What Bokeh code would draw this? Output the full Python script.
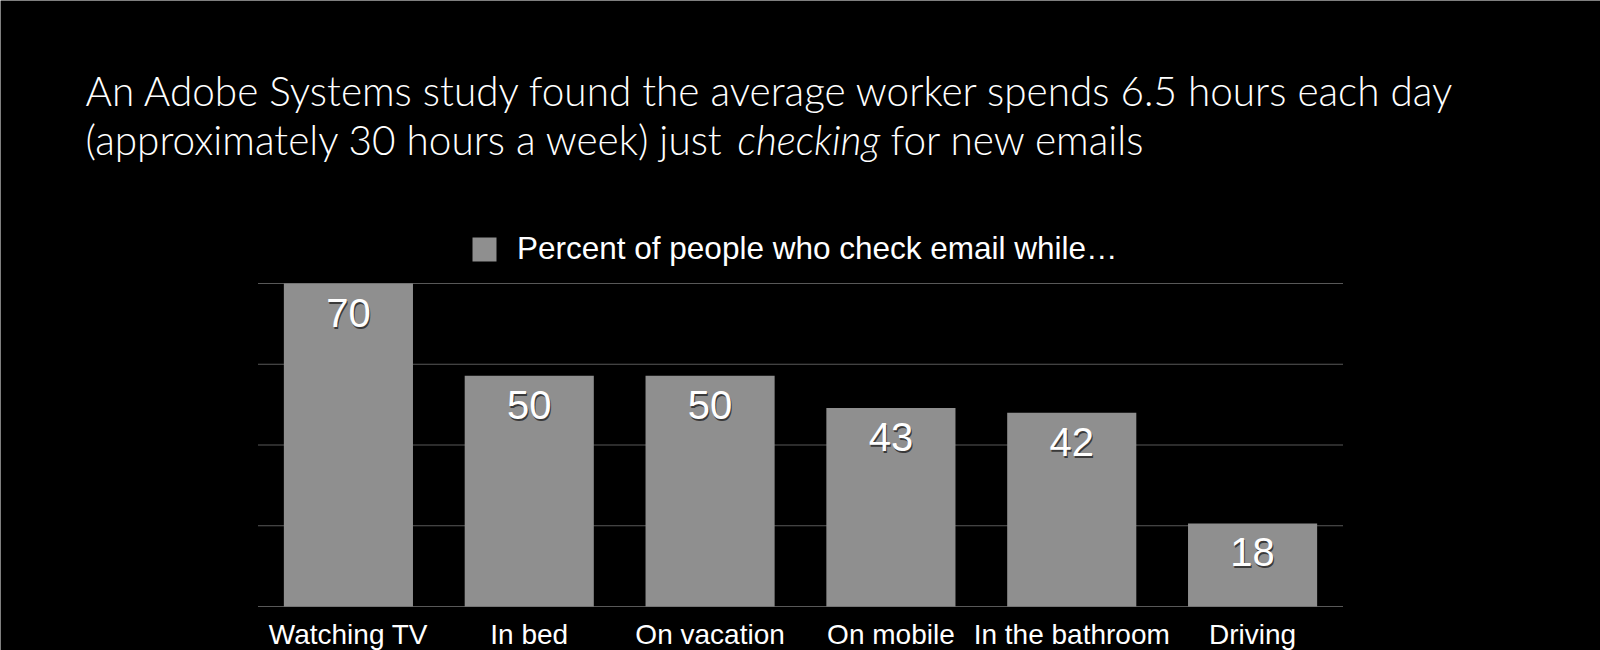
from bokeh.plotting import figure
from bokeh.models import (ColumnDataSource, FactorRange, Range1d, LabelSet,
                          Label, Legend, LegendItem)
from bokeh.transform import dodge
from bokeh.core.properties import value
from bokeh.embed import file_html
from bokeh.resources import INLINE

# ---- data ----
categories = ["Watching TV", "In bed", "On vacation", "On mobile", "In the bathroom", "Driving"]
percents = [70, 50, 50, 43, 42, 18]
series_name = "Percent of people who check email while\u2026"
grid_ticks = [0, 17.5, 35, 52.5, 70]
y_max = 70
title_line1 = "An Adobe Systems study found the average worker spends 6.5 hours each day"
title_line2_a = "(approximately 30 hours a week) just"
title_line2_b = "checking"
title_line2_c = "for new emails"

# ---- layout (pixels) ----
W, H = 1600, 650
BAR_LEFT, BAR_RIGHT, BAR_TOP, BAR_BOTTOM = 257, 1342, 283, 606
n = len(categories)
cat_px = (BAR_RIGHT - BAR_LEFT) / n
pad_fraction = (W - (BAR_RIGHT - BAR_LEFT)) / cat_px / n   # total padding as fraction of span
px_per_unit = (BAR_BOTTOM - BAR_TOP) / y_max
y_top = BAR_BOTTOM / px_per_unit
y_bottom = -(H - BAR_BOTTOM) / px_per_unit

src = ColumnDataSource(dict(cat=categories, val=percents, txt=[str(v) for v in percents],
                            base=[0] * n))
grid_src = ColumnDataSource(dict(first=[categories[0]] * len(grid_ticks),
                                 last=[categories[-1]] * len(grid_ticks),
                                 y=grid_ticks))

p = figure(width=W, height=H,
           x_range=FactorRange(*categories, range_padding=pad_fraction, range_padding_units="percent"),
           y_range=Range1d(y_bottom, y_top), output_backend="svg", toolbar_location=None,
           x_axis_location=None, y_axis_location=None,
           min_border_left=0, min_border_right=0, min_border_top=0, min_border_bottom=0)
p.background_fill_color = "black"
p.border_fill_color = "black"
p.outline_line_color = None
p.grid.visible = False

# horizontal grid lines spanning only the category band
p.segment(x0=dodge("first", -0.5, range=p.x_range), x1=dodge("last", 0.5, range=p.x_range),
          y0="y", y1="y", source=grid_src, line_color="#585858", line_width=1)

r = p.vbar(x="cat", top="val", width=0.714, source=src, fill_color="#8f8f8f", line_color=None)

# category labels under the bars
cat_labels = LabelSet(x="cat", y="base", text="cat", source=src, y_offset=-37,
                      text_align="center", text_baseline="alphabetic",
                      text_font=value("Liberation Sans"), text_font_size="28px", text_color="white")
p.add_layout(cat_labels)

# value labels (with a soft shadow)
shadow = LabelSet(x="cat", y="val", text="txt", source=src, y_offset=-45, x_offset=1,
                  text_align="center", text_baseline="alphabetic",
                  text_font=value("Liberation Sans"), text_font_size="40px", text_color="#3a3a3a")
labels = LabelSet(x="cat", y="val", text="txt", source=src, y_offset=-43,
                  text_align="center", text_baseline="alphabetic",
                  text_font=value("Liberation Sans"), text_font_size="40px", text_color="white")
p.add_layout(shadow)
p.add_layout(labels)

# legend
legend = Legend(items=[LegendItem(label=series_name, renderers=[r])],
                location=(469, H - 267), orientation="horizontal",
                glyph_width=30, glyph_height=30, label_standoff=18, padding=0, margin=0,
                border_line_color=None, background_fill_alpha=0,
                label_text_font="Liberation Sans", label_text_font_size="31.5px",
                label_text_color="white")
p.add_layout(legend, "center")

# title lines
TFONT = "Lato Light"
TSIZE = 40.5
def tlabel(txt, x, y_base, style="normal"):
    return Label(x=x, y=H - y_base, x_units="screen", y_units="screen", text=txt,
                 text_font=TFONT, text_font_size=f"{TSIZE}px", text_font_style=style,
                 text_color="white", text_baseline="alphabetic", text_align="left")

p.add_layout(tlabel(title_line1, 85, 90))
p.add_layout(tlabel(title_line2_a, 85, 139))
p.add_layout(tlabel(title_line2_b, 737, 139, "italic"))
p.add_layout(tlabel(title_line2_c, 890, 139))

open("out.html", "w").write(file_html(p, INLINE))
